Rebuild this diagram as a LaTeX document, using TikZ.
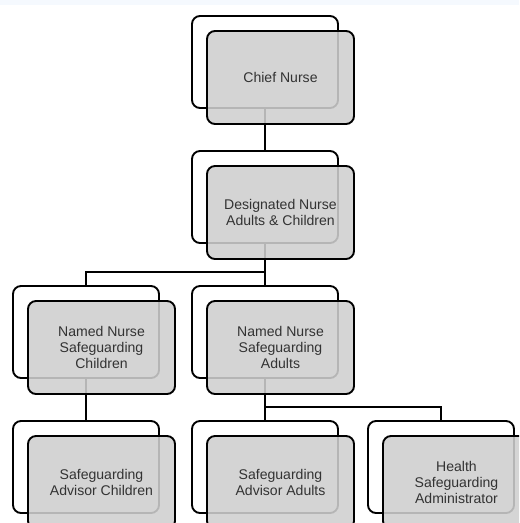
\documentclass[tikz,border=0pt]{standalone}
\usepackage{fontspec}
\setmainfont{Liberation Sans}
\definecolor{boxgray}{HTML}{CFCFCF}
\definecolor{txtgray}{HTML}{333333}
\definecolor{topband}{HTML}{F5F9FE}
\tikzset{
  backbox/.style={draw=black, line width=1.6pt, rounded corners=0.24cm, fill=white,
    minimum width=4.38cm, minimum height=2.76cm, inner sep=0pt},
  frontbox/.style={draw=black, line width=1.6pt, rounded corners=0.24cm, fill=boxgray,
    fill opacity=0.88, text opacity=1, text=txtgray, align=center,
    minimum width=4.41cm, minimum height=2.79cm, inner sep=0pt,
    font=\fontsize{12}{13.5}\selectfont},
  link/.style={line width=1.6pt}
}
\begin{document}
\begin{tikzpicture}[x=0.03cm, y=-0.03cm]
    \useasboundingbox (0,0) rectangle (519,523);
    \clip (0,0) rectangle (519,523);
    \fill[topband] (0,0) rectangle (519,5);

    % Back boxes
    \node[backbox] (chiefB) at (265,62) {};
    \node[backbox] (desigB) at (265,197) {};
    \node[backbox] (nncB) at (86,332) {};
    \node[backbox] (nnaB) at (265,332) {};
    \node[backbox] (sacB) at (86,467) {};
    \node[backbox] (saaB) at (265,467) {};
    \node[backbox] (hsaB) at (441,467) {};

    % Connectors
    \coordinate (splitA) at (265,272);
    \coordinate (splitB) at (265,407);
    \draw[link] (chiefB.south) -- (desigB.north);
    \draw[link] (desigB.south) -- (nnaB.north);
    \draw[link] (splitA) -| (nncB.north);
    \draw[link] (nncB.south) -- (sacB.north);
    \draw[link] (nnaB.south) -- (saaB.north);
    \draw[link] (splitB) -| (hsaB.north);

    % Front boxes
    \node[frontbox] (chief) at (280.5,77.5) {Chief Nurse};
    \node[frontbox] (desig) at (280.5,212.5) {Designated Nurse\\Adults \& Children};
    \node[frontbox] (nnc) at (101.5,347.5) {Named Nurse\\Safeguarding\\Children};
    \node[frontbox] (nna) at (280.5,347.5) {Named Nurse\\Safeguarding\\Adults};
    \node[frontbox] (sac) at (101.5,482.5) {Safeguarding\\Advisor Children};
    \node[frontbox] (saa) at (280.5,482.5) {Safeguarding\\Advisor Adults};
    \node[frontbox] (hsa) at (456.5,482.5) {Health\\Safeguarding\\Administrator};
\end{tikzpicture}
\end{document}
